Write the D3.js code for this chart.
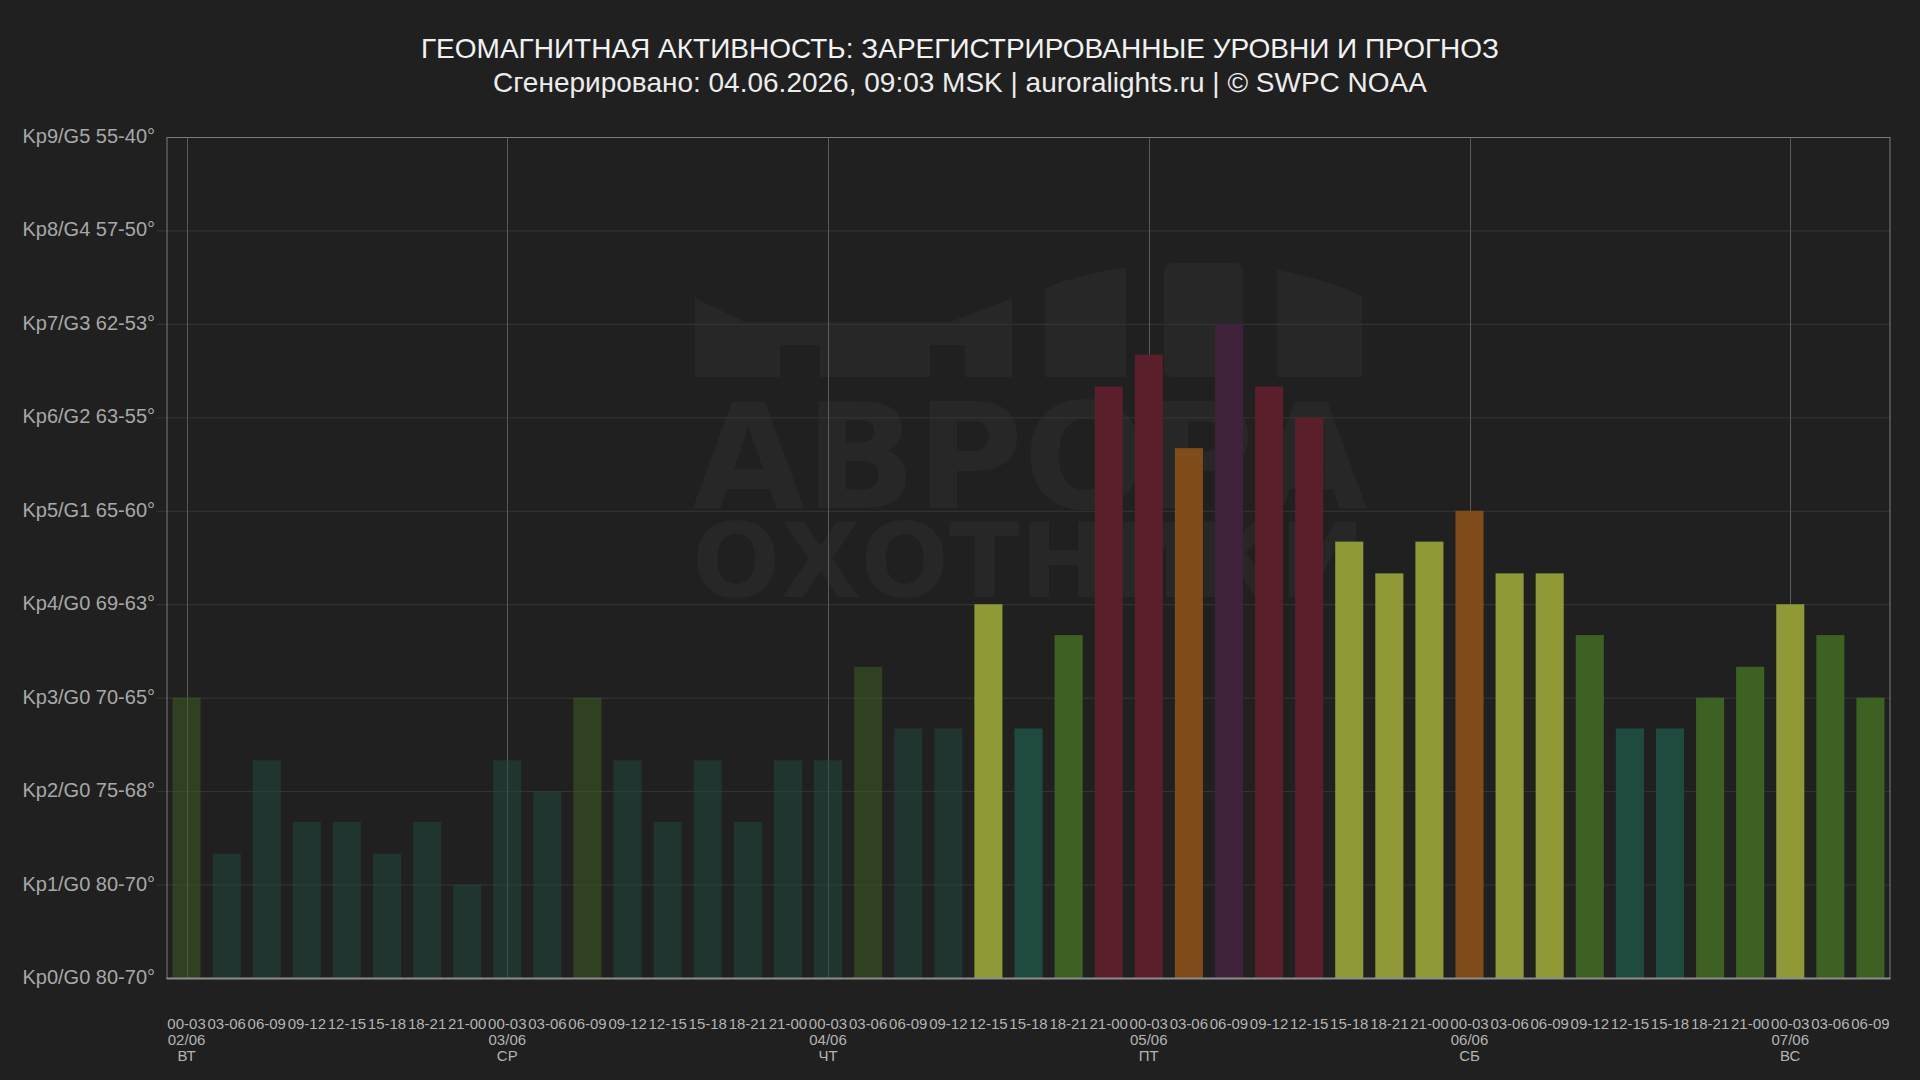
<!DOCTYPE html>
<html>
<head>
<meta charset="utf-8">
<script src="https://cdn.jsdelivr.net/npm/d3@7"></script>
<style>
  html, body { margin: 0; padding: 0; background: #202020; }
  svg { display: block; font-family: "Liberation Sans", Arial, sans-serif; }
</style>
</head>
<body>
<svg width="1920" height="1080"></svg>
<script>
const periods = ['00-03', '03-06', '06-09', '09-12', '12-15', '15-18', '18-21', '21-00'];
const days = ['02/06', '03/06', '04/06', '05/06', '06/06', '07/06'];
const weekdays = ['ВТ', 'СР', 'ЧТ', 'ПТ', 'СБ', 'ВС'];
const kpValues = [
  3, 1.33, 2.33, 1.67, 1.67, 1.33, 1.67, 1,
  2.33, 2, 3, 2.33, 1.67, 2.33, 1.67, 2.33,
  2.33, 3.33, 2.67, 2.67, 4, 2.67, 3.67, 6.33,
  6.67, 5.67, 7, 6.33, 6, 4.67, 4.33, 4.67,
  5, 4.33, 4.33, 3.67, 2.67, 2.67, 3, 3.33,
  4, 3.67, 3
];
const observedCount = 20; // first 20 intervals are measured, the rest is forecast
const yLabels = [
  'Kp0/G0 80-70°', 'Kp1/G0 80-70°', 'Kp2/G0 75-68°', 'Kp3/G0 70-65°', 'Kp4/G0 69-63°',
  'Kp5/G1 65-60°', 'Kp6/G2 63-55°', 'Kp7/G3 62-53°', 'Kp8/G4 57-50°', 'Kp9/G5 55-40°'
];
const title = 'ГЕОМАГНИТНАЯ АКТИВНОСТЬ: ЗАРЕГИСТРИРОВАННЫЕ УРОВНИ И ПРОГНОЗ';
const subtitle = 'Сгенерировано: 04.06.2026, 09:03 MSK | auroralights.ru | © SWPC NOAA';

// one bar per 3-hour interval
const bars = kpValues.map((kp, i) => ({
  i: i,
  kp: kp,
  period: periods[i % 8],
  day: i % 8 === 0 ? days[Math.floor(i / 8)] : null,
  weekday: i % 8 === 0 ? weekdays[Math.floor(i / 8)] : null,
  observed: i < observedCount
}));

const kpColor = kp => {
  const k = Math.floor(kp);
  if (k < 3) return '#1f4a40';
  if (k === 3) return '#3d6122';
  if (k === 4) return '#8f9a36';
  if (k === 5) return '#7f4c1a';
  if (k === 6) return '#5a1f2b';
  if (k === 7) return '#40213a';
  return '#6b1a3a';
};

const margin = { left: 166.5, right: 29.5, top: 137, bottom: 102 };
const W = 1920, H = 1080;
const svg = d3.select('svg');

svg.append('rect').attr('width', W).attr('height', H).attr('fill', '#202020');

const x = d3.scaleBand()
  .domain(bars.map(d => d.i))
  .range([margin.left, W - margin.right])
  .paddingInner(0.3)
  .paddingOuter(0.15);

const y = d3.scaleLinear()
  .domain([0, 9])
  .range([H - margin.bottom, margin.top]);

// watermark logo behind the plot
const wm = svg.append('g').attr('fill', '#272727');
wm.append('path').attr('d', 'M695,298 L745,322 L950,322 L1012,298 L1012,377 L965,377 L965,345 L930,345 L930,377 L820,377 L820,345 L780,345 L780,377 L695,377 Z');
wm.append('path').attr('d', 'M1045,288 Q1085,272 1126,268 L1126,377 L1045,377 Z');
wm.append('rect').attr('x', 1164).attr('y', 263).attr('width', 79).attr('height', 114).attr('rx', 8);
wm.append('path').attr('d', 'M1277,270 Q1330,280 1362,296 L1362,377 L1277,377 Z');
const wmText = wm.append('text')
  .attr('font-family', '"DejaVu Sans", sans-serif')
  .attr('font-weight', 'bold');
wmText.append('tspan').attr('x', 692).attr('y', 508).attr('font-size', 146).text('АВРОРА');
wmText.append('tspan').attr('x', 692).attr('y', 597).attr('font-size', 104).text('ОХОТНИКИ');

// horizontal grid
svg.append('g')
  .selectAll('line')
  .data(d3.range(1, 9))
  .join('line')
  .attr('x1', margin.left - 10)
  .attr('x2', W - margin.right)
  .attr('y1', d => y(d) + 0.5)
  .attr('y2', d => y(d) + 0.5)
  .attr('stroke', '#363636')
  .attr('stroke-width', 1);

// day separators at the first interval of every day
svg.append('g')
  .selectAll('line')
  .data(bars.filter(d => d.day))
  .join('line')
  .attr('x1', d => Math.round(x(d.i) + x.bandwidth() / 2) + 0.5)
  .attr('x2', d => Math.round(x(d.i) + x.bandwidth() / 2) + 0.5)
  .attr('y1', margin.top)
  .attr('y2', H - margin.bottom)
  .attr('stroke', '#5a5a5a')
  .attr('stroke-width', 1);

// bars
svg.append('g')
  .selectAll('rect')
  .data(bars)
  .join('rect')
  .attr('x', d => x(d.i))
  .attr('y', d => y(d.kp))
  .attr('width', x.bandwidth())
  .attr('height', d => y(0) - y(d.kp))
  .attr('fill', d => kpColor(d.kp))
  .attr('fill-opacity', d => (d.observed ? 0.5 : 1));

// plot frame
svg.append('rect')
  .attr('x', margin.left + 0.5)
  .attr('y', margin.top + 0.5)
  .attr('width', W - margin.left - margin.right - 1)
  .attr('height', H - margin.top - margin.bottom)
  .attr('fill', 'none')
  .attr('stroke', '#7a7a7a')
  .attr('stroke-width', 1);
svg.append('line')
  .attr('x1', margin.left).attr('x2', W - margin.right)
  .attr('y1', y(0) + 0.5).attr('y2', y(0) + 0.5)
  .attr('stroke', '#8c8c8c').attr('stroke-width', 2);

// y labels
svg.append('g')
  .selectAll('text')
  .data(yLabels)
  .join('text')
  .attr('x', 155)
  .attr('y', (d, i) => y(i))
  .attr('dy', '0.3em')
  .attr('text-anchor', 'end')
  .attr('font-size', 20)
  .attr('fill', '#a8a8a8')
  .text(d => d);

// x labels: period, then date and weekday under the first period of a day
const xl = svg.append('g')
  .selectAll('g')
  .data(bars)
  .join('g')
  .attr('transform', d => `translate(${x(d.i) + x.bandwidth() / 2},0)`)
  .attr('text-anchor', 'middle')
  .attr('font-size', 15)
  .attr('fill', '#b4b4b4');
xl.append('text').attr('y', 1029).text(d => d.period);
xl.filter(d => d.day).append('text').attr('y', 1045).text(d => d.day);
xl.filter(d => d.day).append('text').attr('y', 1061).text(d => d.weekday);

// titles
svg.append('text')
  .attr('x', W / 2).attr('y', 58)
  .attr('text-anchor', 'middle')
  .attr('font-size', 28)
  .attr('fill', '#f2f2f2')
  .text(title);
svg.append('text')
  .attr('x', W / 2).attr('y', 92)
  .attr('text-anchor', 'middle')
  .attr('font-size', 28)
  .attr('fill', '#ececec')
  .text(subtitle);
</script>
</body>
</html>
